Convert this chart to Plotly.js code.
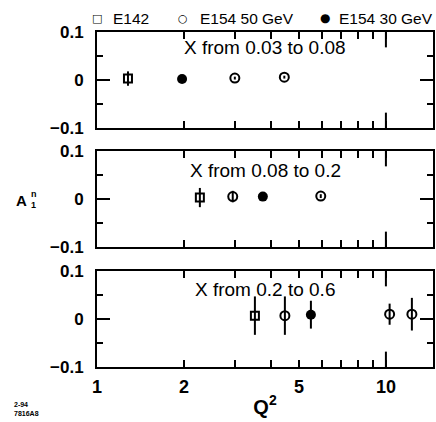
<!DOCTYPE html>
<html>
<head>
<meta charset="utf-8">
<script src="https://cdn.plot.ly/plotly-3.0.1.min.js"></script>
<style>html,body{margin:0;padding:0;background:#fff;overflow:hidden}</style>
</head>
<body>
<div id="chart" style="width:436px;height:422px"></div>
<script>
// ---- data ----
const panelTitles = ["X from 0.03 to 0.08", "X from 0.08 to 0.2", "X from 0.2 to 0.6"];
const seriesNames = ["E142", "E154 50 GeV", "E154 30 GeV"];
const seriesGlyphs = ["\u25A1", "\u25CB", "\u25CF"];

// panel 1 (0.03 < x < 0.08)
const p1_e142_q2 = [1.28], p1_e142_a = [0.003], p1_e142_err = [0.015];
const p1_e50_q2 = [3.0, 4.45], p1_e50_a = [0.004, 0.006], p1_e50_err = [0.003, 0.003];
const p1_e30_q2 = [1.97], p1_e30_a = [0.002], p1_e30_err = [0.004];
// panel 2 (0.08 < x < 0.2)
const p2_e142_q2 = [2.27], p2_e142_a = [0.003], p2_e142_err = [0.02];
const p2_e50_q2 = [2.95, 5.95], p2_e50_a = [0.005, 0.006], p2_e50_err = [0.012, 0.004];
const p2_e30_q2 = [3.75], p2_e30_a = [0.005], p2_e30_err = [0.007];
// panel 3 (0.2 < x < 0.6)
const p3_e142_q2 = [3.52], p3_e142_a = [0.007], p3_e142_err = [0.04];
const p3_e50_q2 = [4.47, 10.3, 12.3], p3_e50_a = [0.007, 0.01, 0.01], p3_e50_err = [0.04, 0.022, 0.034];
const p3_e30_q2 = [5.5], p3_e30_a = [0.009], p3_e30_err = [0.029];

const xTickVals = [1, 2, 5, 10];
const xTickText = ["1", "2", "5", "10"];
const xMinorVals = [3, 4, 6, 7, 8, 9];
const yTickVals = [-0.1, 0, 0.1];
const yTickText = ["\u22120.1", "0", "0.1"];
const yMinorVals = [-0.05, 0.05];

// ---- styling ----
const FONT = "Liberation Sans, Arial, Helvetica, sans-serif";
const TICK = "black";
const styles = [
  {symbol: "square-open", size: 8, line: {width: 2, color: "black"}, color: "black"},
  {symbol: "circle-open", size: 9, line: {width: 2, color: "black"}, color: "black"},
  {symbol: "circle", size: 10, color: "black"}
];
const panels = [
  [[p1_e142_q2, p1_e142_a, p1_e142_err], [p1_e50_q2, p1_e50_a, p1_e50_err], [p1_e30_q2, p1_e30_a, p1_e30_err]],
  [[p2_e142_q2, p2_e142_a, p2_e142_err], [p2_e50_q2, p2_e50_a, p2_e50_err], [p2_e30_q2, p2_e30_a, p2_e30_err]],
  [[p3_e142_q2, p3_e142_a, p3_e142_err], [p3_e50_q2, p3_e50_a, p3_e50_err], [p3_e30_q2, p3_e30_a, p3_e30_err]]
];

const traces = [];
panels.forEach((series, pi) => {
  const sfx = pi === 0 ? "" : String(pi + 1);
  series.forEach((s, si) => {
    traces.push({
      type: "scatter", mode: "markers",
      x: s[0], y: s[1],
      error_y: {type: "data", array: s[2], visible: true, color: "black", thickness: 2, width: 0},
      marker: styles[si],
      name: seriesNames[si], legendgroup: seriesNames[si],
      showlegend: false,
      xaxis: "x" + sfx, yaxis: "y" + sfx,
      cliponaxis: false
    });
  });
});

const domains = [[0.7134, 1], [0.3582, 0.6448], [0, 0.2866]];
const layout = {
  width: 436, height: 422,
  margin: {l: 97, r: 3, t: 32, b: 55},
  paper_bgcolor: "white", plot_bgcolor: "white",
  font: {family: FONT, color: "black"},
  showlegend: false,
  annotations: [],
  shapes: []
};

const titleY = [0.84, 0.80, 0.81];
for (let i = 0; i < 3; i++) {
  const sfx = i === 0 ? "" : String(i + 1);
  const isBottom = i === 2;
  const xa = {
    type: "log", range: [0, 1.163], anchor: "y" + sfx,
    showline: true, linecolor: "black", linewidth: 2, mirror: "allticks",
    ticks: "inside", ticklen: 7, tickwidth: 2, tickcolor: TICK,
    tickmode: "array", tickvals: xTickVals, ticktext: xTickText,
    showticklabels: isBottom, ticklabelstandoff: 2,
    tickfont: {family: FONT, size: 18, weight: "bold", color: "black"},
    minor: {tickmode: "array", tickvals: xMinorVals, ticks: "inside", ticklen: 7, tickwidth: 2, tickcolor: TICK, showgrid: false},
    showgrid: false, zeroline: false, fixedrange: true
  };
  if (isBottom) xa.title = {text: "Q<sup>2</sup>", font: {family: FONT, size: 20, weight: "bold", color: "black"}, standoff: 4};
  layout["xaxis" + sfx] = xa;
  layout["yaxis" + sfx] = {
    domain: domains[i], range: [-0.1, 0.1], anchor: "x" + sfx,
    showline: true, linecolor: "black", linewidth: 2, mirror: "allticks",
    ticks: "inside", ticklen: 13, tickwidth: 2, tickcolor: TICK,
    tickmode: "array", tickvals: yTickVals, ticktext: yTickText,
    ticklabelstandoff: 8,
    tickfont: {family: FONT, size: 17, weight: "bold", color: "black"},
    minor: {tickmode: "array", tickvals: yMinorVals, ticks: "inside", ticklen: 6, tickwidth: 2, tickcolor: TICK, showgrid: false},
    showgrid: false, zeroline: false, fixedrange: true
  };
  layout.annotations.push({
    text: panelTitles[i], xref: "x" + sfx + " domain", yref: "y" + sfx + " domain",
    x: 0.5, y: titleY[i], xanchor: "center", yanchor: "middle", showarrow: false,
    font: {family: FONT, size: 19, color: "black"}
  });
  // longer decade tick at Q^2 = 10 (bottom and top)
  layout.shapes.push({type: "line", xref: "x" + sfx, yref: "y" + sfx + " domain", x0: 10, x1: 10, y0: 0, y1: 0.16, line: {color: "black", width: 2}});
  layout.shapes.push({type: "line", xref: "x" + sfx, yref: "y" + sfx + " domain", x0: 10, x1: 10, y0: 0.84, y1: 1, line: {color: "black", width: 2}});
}

const px = v => (v - 97) / 336, py = v => (367 - v) / 335;

// legend drawn as a row of key glyphs and names above the top panel
const legendSymX = [97, 183, 325];
const legendTxtX = [111, 198, 337];
seriesNames.forEach((n, i) => {
  layout.annotations.push(
    {text: seriesGlyphs[i], xref: "paper", yref: "paper", x: px(legendSymX[i]), y: py(18), xanchor: "center", yanchor: "middle", showarrow: false, font: {family: "DejaVu Sans", size: i === 2 ? 12 : 11, color: "black"}},
    {text: n, xref: "paper", yref: "paper", x: px(legendTxtX[i]), y: py(18), xanchor: "left", yanchor: "middle", showarrow: false, font: {family: FONT, size: 15.5, color: "black"}}
  );
});

// A_1^n label and plot code
layout.annotations.push(
  {text: "A", xref: "paper", yref: "paper", x: px(29), y: py(200), xanchor: "right", yanchor: "middle", showarrow: false, font: {family: FONT, size: 15, weight: "bold"}},
  {text: "n", xref: "paper", yref: "paper", x: px(29), y: py(194), xanchor: "left", yanchor: "middle", showarrow: false, font: {family: FONT, size: 9, weight: "bold"}},
  {text: "1", xref: "paper", yref: "paper", x: px(29), y: py(205), xanchor: "left", yanchor: "middle", showarrow: false, font: {family: FONT, size: 9, weight: "bold"}},
  {text: "2-94<br>7816A8", xref: "paper", yref: "paper", x: px(12), y: py(409), xanchor: "left", yanchor: "middle", align: "left", showarrow: false, font: {family: FONT, size: 7, weight: "bold"}}
);

Plotly.newPlot("chart", traces, layout, {staticPlot: true, displayModeBar: false});
</script>
</body>
</html>
